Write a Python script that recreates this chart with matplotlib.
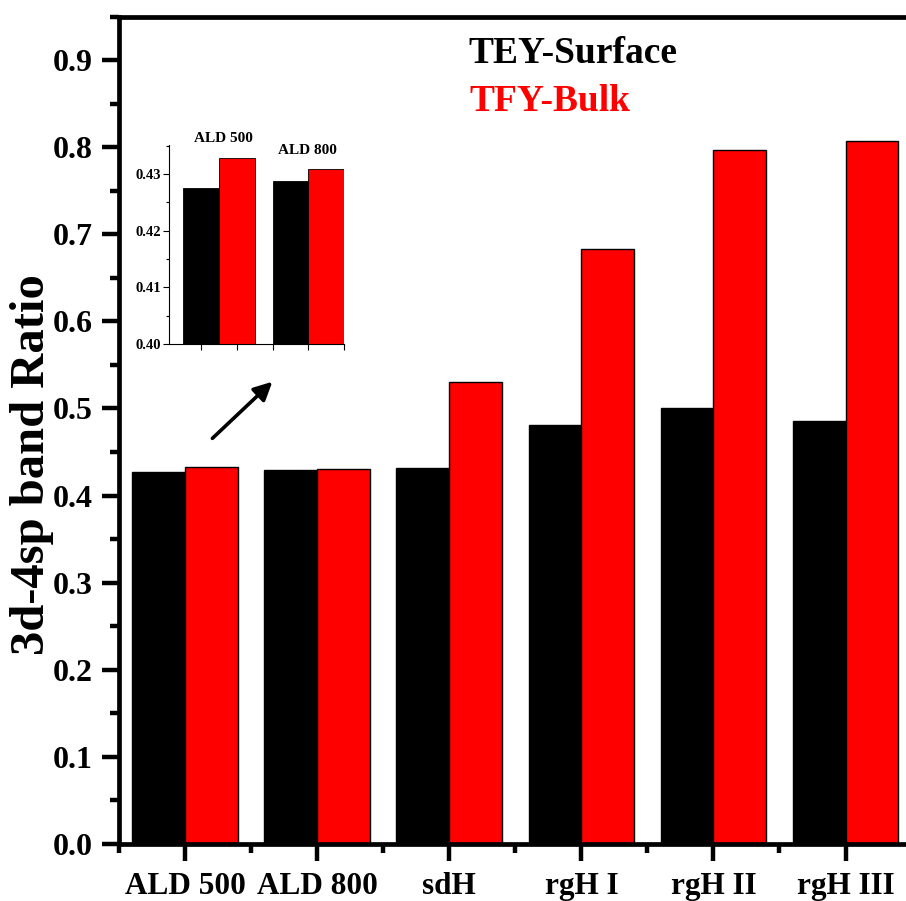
import matplotlib
matplotlib.use("Agg")
import matplotlib.pyplot as plt
from matplotlib.ticker import MultipleLocator, FixedLocator, NullFormatter, FormatStrFormatter
import numpy as np

plt.rcParams['font.family'] = ['Liberation Serif', 'DejaVu Serif']
plt.rcParams['font.weight'] = 'bold'

# Data
samples = ["ALD 500", "ALD 800", "sdH", "rgH I", "rgH II", "rgH III"]
tey_surface = [0.4276, 0.4288, 0.4313, 0.481, 0.500, 0.4856]
tfy_bulk = [0.4328, 0.4308, 0.530, 0.683, 0.797, 0.807]
inset_samples = ["ALD 500", "ALD 800"]
inset_tey = tey_surface[:2]
inset_tfy = tfy_bulk[:2]

W, H = 906, 901
fig = plt.figure(figsize=(W / 100, H / 100), dpi=100)

# Main axes (extends past the right edge of the figure)
ax = fig.add_axes([119 / W, (H - 844) / H, 792.6 / W, 827.5 / H])
x = np.arange(len(samples))
bw = 0.4
ax.bar(x - bw / 2, tey_surface, bw, color='black', edgecolor='black', linewidth=1.0)
ax.bar(x + bw / 2, tfy_bulk, bw, color='#ff0000', edgecolor='black', linewidth=1.0)

ax.set_xlim(-0.5, 5.5)
ax.set_ylim(0, 0.95)
ax.set_xticks(x)
ax.set_xticklabels(samples, fontsize=22.5, fontweight='bold')
ax.xaxis.set_minor_locator(FixedLocator(np.arange(-0.5, 5.6, 1.0)))
ax.yaxis.set_major_locator(MultipleLocator(0.1))
ax.yaxis.set_minor_locator(MultipleLocator(0.05))
ax.yaxis.set_major_formatter(FormatStrFormatter('%.1f'))
for lab in ax.get_yticklabels():
    lab.set_fontsize(23)
    lab.set_fontweight('bold')

for s in ax.spines.values():
    s.set_linewidth(3.4)
ax.tick_params(axis='both', which='major', direction='out', length=12, width=3.2,
               top=False, right=False)
ax.tick_params(axis='both', which='minor', direction='out', length=6.5, width=3.2,
               top=False, right=False)
ax.tick_params(axis='y', which='major', pad=7)
ax.tick_params(axis='x', which='major', pad=8)

fig.text(32 / W, 1 - 465 / H, "3d-4sp band Ratio", rotation=90,
         ha='center', va='center', fontsize=35, fontweight='bold')

# Series names
fig.text(468 / W, 1 - 63 / H, "TEY-Surface", color='black', fontsize=27,
         fontweight='bold', ha='left', va='baseline')
fig.text(469 / W, 1 - 110.7 / H, "TFY-Bulk", color='#ff0000', fontsize=27,
         fontweight='bold', ha='left', va='baseline')

# Arrow pointing to the inset
ax.annotate("", xy=(0.661, 0.5307), xytext=(0.207, 0.4657),
            arrowprops=dict(arrowstyle='-|>,head_length=1.1,head_width=0.55',
                            color='black', lw=2.6, shrinkA=0, shrinkB=0))

# Inset zoom on the ALD samples
axin = fig.add_axes([169.3 / W, (H - 344) / H, 174.7 / W, 199 / H])
xi = np.arange(len(inset_samples))
axin.bar(xi - bw / 2, inset_tey, bw, color='black', edgecolor='black', linewidth=0.6)
axin.bar(xi + bw / 2, inset_tfy, bw, color='#ff0000', edgecolor='black', linewidth=0.6)
axin.set_xlim(-0.557, 1.4)
axin.set_ylim(0.40, 0.4351)
axin.xaxis.set_major_locator(FixedLocator([-0.2, 0.2, 0.6, 1.0, 1.4]))
axin.xaxis.set_major_formatter(NullFormatter())
axin.yaxis.set_major_locator(MultipleLocator(0.01))
axin.yaxis.set_minor_locator(MultipleLocator(0.005))
axin.yaxis.set_major_formatter(FormatStrFormatter('%.2f'))
for lab in axin.get_yticklabels():
    lab.set_fontsize(10.5)
    lab.set_fontweight('bold')
axin.spines['top'].set_visible(False)
axin.spines['right'].set_visible(False)
for k in ('left', 'bottom'):
    axin.spines[k].set_linewidth(0.8)
axin.tick_params(axis='both', which='major', length=4, width=0.8, pad=2)
axin.tick_params(axis='y', which='minor', length=2.5, width=0.8)
axin.set_facecolor('none')

fig.text(223 / W, 1 - 138 / H, inset_samples[0], ha='center', va='center',
         fontsize=11, fontweight='bold')
fig.text(307 / W, 1 - 150 / H, inset_samples[1], ha='center', va='center',
         fontsize=11, fontweight='bold')

fig.savefig("out.png", dpi=100)
